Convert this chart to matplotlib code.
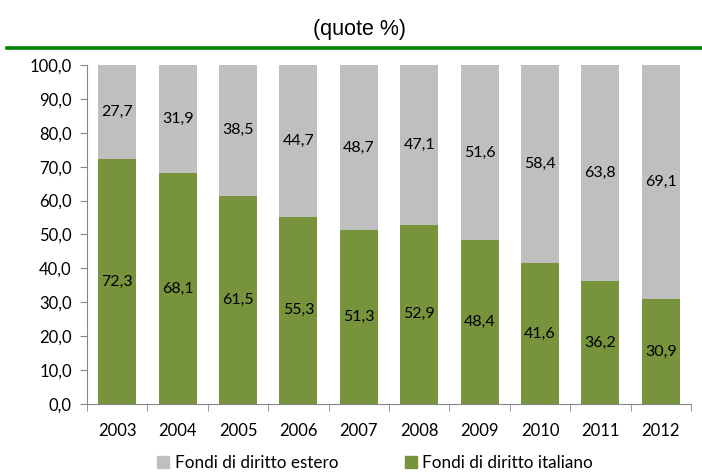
import matplotlib
matplotlib.use("Agg")
import matplotlib.pyplot as plt
import numpy as np
from matplotlib.patches import Patch

years = ["2003", "2004", "2005", "2006", "2007", "2008", "2009", "2010", "2011", "2012"]
italiano = [72.3, 68.1, 61.5, 55.3, 51.3, 52.9, 48.4, 41.6, 36.2, 30.9]
estero = [27.7, 31.9, 38.5, 44.7, 48.7, 47.1, 51.6, 58.4, 63.8, 69.1]
yticks = [0, 10, 20, 30, 40, 50, 60, 70, 80, 90, 100]

GREEN = "#77933C"
GRAY = "#BFBFBF"
AXIS = "#868686"

plt.rcParams["font.family"] = ["Lato", "DejaVu Sans"]

fig = plt.figure(figsize=(7.02, 4.73), dpi=100)
ax = fig.add_axes([87 / 702, 1 - 404 / 473, (691 - 87) / 702, (404 - 65) / 473])

x = np.arange(len(years))
ax.bar(x, italiano, width=0.63, color=GREEN, label="Fondi di diritto italiano")
ax.bar(x, estero, width=0.63, bottom=italiano, color=GRAY, label="Fondi di diritto estero")

for i in range(len(years)):
    ax.text(x[i], italiano[i] / 2, f"{italiano[i]:.1f}".replace(".", ","),
            ha="center", va="center", fontsize=11.5, color="black")
    ax.text(x[i], italiano[i] + estero[i] / 2, f"{estero[i]:.1f}".replace(".", ","),
            ha="center", va="center", fontsize=11.5, color="black")

ax.set_xlim(-0.5, len(years) - 0.5)
ax.set_ylim(0, 100)
ax.set_yticks(yticks)
ax.set_yticklabels([f"{v:.1f}".replace(".", ",") for v in yticks], fontsize=12)
ax.set_xticks(x)
ax.set_xticklabels(years, fontsize=12)
ax.set_xticks(np.arange(-0.5, len(years)), minor=True)
ax.tick_params(axis="x", which="major", length=0, pad=14)
ax.tick_params(axis="x", which="minor", length=5, color=AXIS, direction="out")
ax.tick_params(axis="y", length=5, color=AXIS, pad=6)

for s in ["top", "right"]:
    ax.spines[s].set_visible(False)
ax.spines["left"].set_color(AXIS)
ax.spines["bottom"].set_color(AXIS)

# subtitle and green rule under the (cropped) title
fig.text(360 / 702, 1 - 30 / 473, "(quote %)", ha="center", va="center",
         fontsize=15.5, family="Liberation Sans")
fig.add_artist(plt.Line2D([7 / 702, 1.0], [1 - 48 / 473, 1 - 48 / 473],
                          color="#008000", linewidth=2.6, transform=fig.transFigure))

handles = [Patch(color=GRAY, label="Fondi di diritto estero"),
           Patch(color=GREEN, label="Fondi di diritto italiano")]
fig.legend(handles=handles, loc="center", bbox_to_anchor=(375 / 702, 1 - 463 / 473),
           ncol=2, frameon=False, fontsize=12.3, handlelength=0.7, handleheight=0.7,
           handletextpad=0.3, columnspacing=3.9)

fig.savefig("out.png", dpi=100)
